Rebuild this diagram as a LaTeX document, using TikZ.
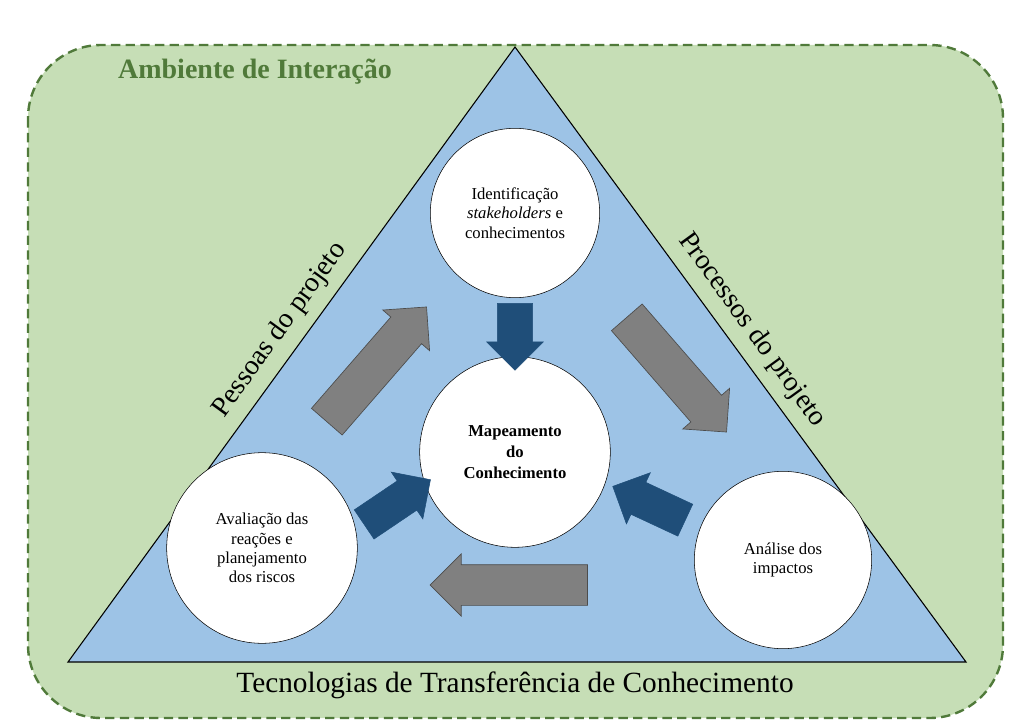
\documentclass[tikz,border=0pt]{standalone}
\usepackage{fontspec}
\setmainfont{Liberation Serif}
\usetikzlibrary{shapes.arrows}
\definecolor{envgreen}{HTML}{C6DEB6}
\definecolor{envborder}{HTML}{507A3A}
\definecolor{triblue}{HTML}{9DC3E6}
\definecolor{darkblue}{HTML}{1F4E79}
\definecolor{arrgray}{HTML}{808080}
\tikzset{
  circ/.style={circle,draw=black,fill=white,align=center,font=\fontsize{12.5}{14.5}\selectfont},
  grayarr/.style={single arrow,draw=black!70,fill=arrgray,minimum width=46pt,single arrow head extend=8pt,inner xsep=0pt,inner ysep=15pt,line width=0.5pt},
  bluearr/.style={single arrow,draw=darkblue,fill=darkblue,minimum width=42pt,single arrow head extend=8pt,inner xsep=0pt,inner ysep=13pt},
}
\begin{document}
\begin{tikzpicture}[x=0.75pt,y=-0.75pt]
\useasboundingbox (0,0) rectangle (1024,723);
\draw[envborder,fill=envgreen,dash pattern=on 7pt off 4pt,line width=1.8pt,rounded corners=55pt] (28,45) rectangle (1003,718);
\node[font=\bfseries\fontsize{21}{24}\selectfont,text=envborder] (amb) at (255,72) {Ambiente de Interação};
\coordinate (A) at (515,47);
\coordinate (B) at (68,662);
\coordinate (C) at (966,662);
\draw[fill=triblue,line width=0.8pt] (A) -- (B) -- (C) -- cycle;
\node[rotate=54,font=\fontsize{21}{24}\selectfont] (pes) at (280,330) {Pessoas do projeto};
\node[rotate=-54,font=\fontsize{21}{24}\selectfont] (pro) at (752,330) {Processos do projeto};
\node[font=\fontsize{22}{24}\selectfont] (tec) at (515,685) {Tecnologias de Transferência de Conhecimento};
\node[circ,minimum size=127pt] (id) at (515,213) {Identificação\\\textit{stakeholders} e\\conhecimentos};
\node[circ,minimum size=143pt,font=\bfseries\fontsize{12.5}{16}\selectfont] (map) at (515,452) {Mapeamento\\do\\Conhecimento};
\node[circ,minimum size=143pt] (av) at (262,548) {Avaliação das\\reações e\\planejamento\\dos riscos};
\node[circ,minimum size=133pt] (an) at (783,560) {Análise dos\\impactos};
\node[grayarr,minimum height=114pt,rotate=49] (g1) at (370,372) {};
\node[grayarr,minimum height=114pt,rotate=-49] (g2) at (670,367) {};
\node[grayarr,minimum height=118pt,rotate=180] (g3) at (519,585) {};
\node[bluearr,minimum height=50pt,rotate=-90] (b1) at (515,328) {};
\node[bluearr,minimum height=60pt,rotate=34] (b2) at (390,507) {};
\node[bluearr,minimum height=60pt,rotate=155] (b3) at (657,507) {};
\end{tikzpicture}
\end{document}
